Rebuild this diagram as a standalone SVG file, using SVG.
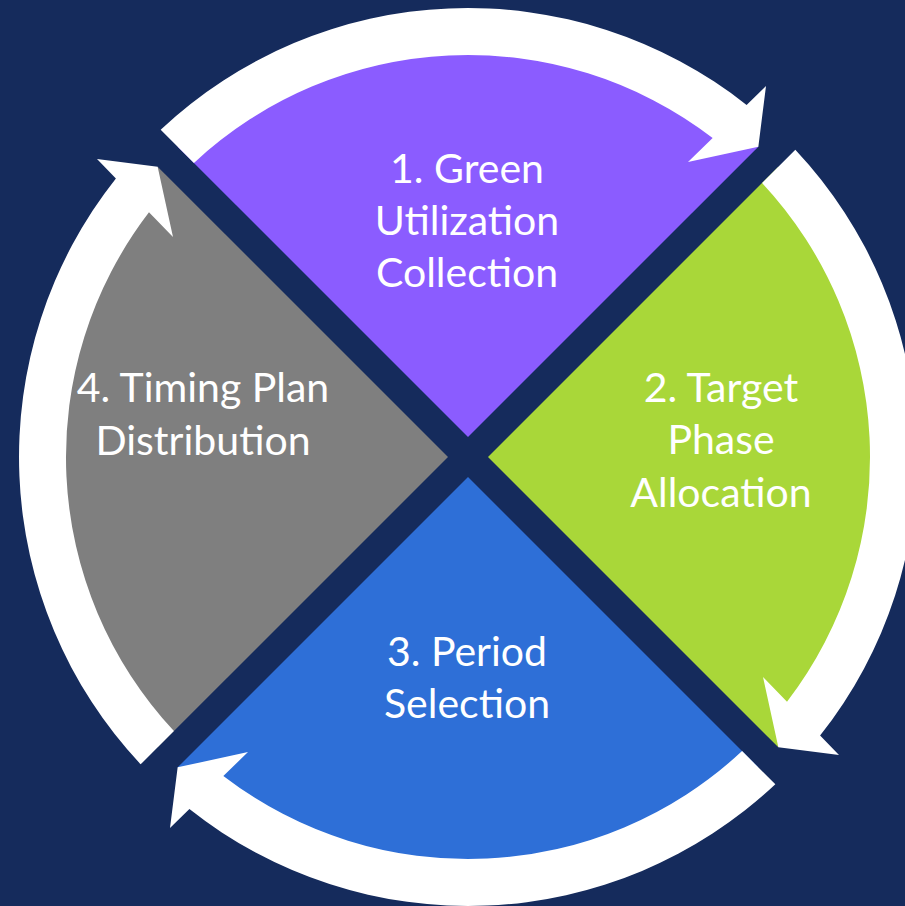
<svg xmlns="http://www.w3.org/2000/svg" width="905" height="906" viewBox="0 0 905 906">
  <style>
    .lbl { font-family: "Lato", "Liberation Sans", sans-serif; font-size: 41px; fill: #ffffff; text-anchor: middle; }
    .arrow { fill: #ffffff; }
  </style>
  <defs>
    <path id="sector" d="M 468 437 L 758.35 146.65 A 425 425 0 0 0 177.65 146.65 Z"/>
    <path id="arrowShape" d="M 160.67 129.67 A 449 449 0 0 1 746.6 104.9 L 766 86 L 758.35 146.65 L 688 162 L 712.65 137.99 A 402 402 0 0 0 193.92 162.92 Z"/>
  </defs>
  <rect x="0" y="0" width="905" height="906" fill="#152B5C"/>
  <g id="node-1">
    <use href="#sector" fill="#8B5CFF"/>
    <text class="lbl"><tspan x="467" y="183">1. Green</tspan><tspan x="467" y="235">Utilization</tspan><tspan x="467" y="287">Collection</tspan></text>
  </g>
  <g id="node-2">
    <use href="#sector" fill="#A9D739" transform="rotate(90 468 457)"/>
    <text class="lbl"><tspan x="721" y="402">2. Target</tspan><tspan x="721" y="454">Phase</tspan><tspan x="721" y="507">Allocation</tspan></text>
  </g>
  <g id="node-3">
    <use href="#sector" fill="#2E6FD7" transform="rotate(180 468 457)"/>
    <text class="lbl"><tspan x="467" y="666">3. Period</tspan><tspan x="467" y="718">Selection</tspan></text>
  </g>
  <g id="node-4">
    <use href="#sector" fill="#7F7F7F" transform="rotate(270 468 457)"/>
    <text class="lbl"><tspan x="203" y="402">4. Timing Plan</tspan><tspan x="203" y="455">Distribution</tspan></text>
  </g>
  <g id="connectors">
    <use href="#arrowShape" class="arrow"/>
    <use href="#arrowShape" class="arrow" transform="rotate(90 468 457)"/>
    <use href="#arrowShape" class="arrow" transform="rotate(180 468 457)"/>
    <use href="#arrowShape" class="arrow" transform="rotate(270 468 457)"/>
  </g>
</svg>
